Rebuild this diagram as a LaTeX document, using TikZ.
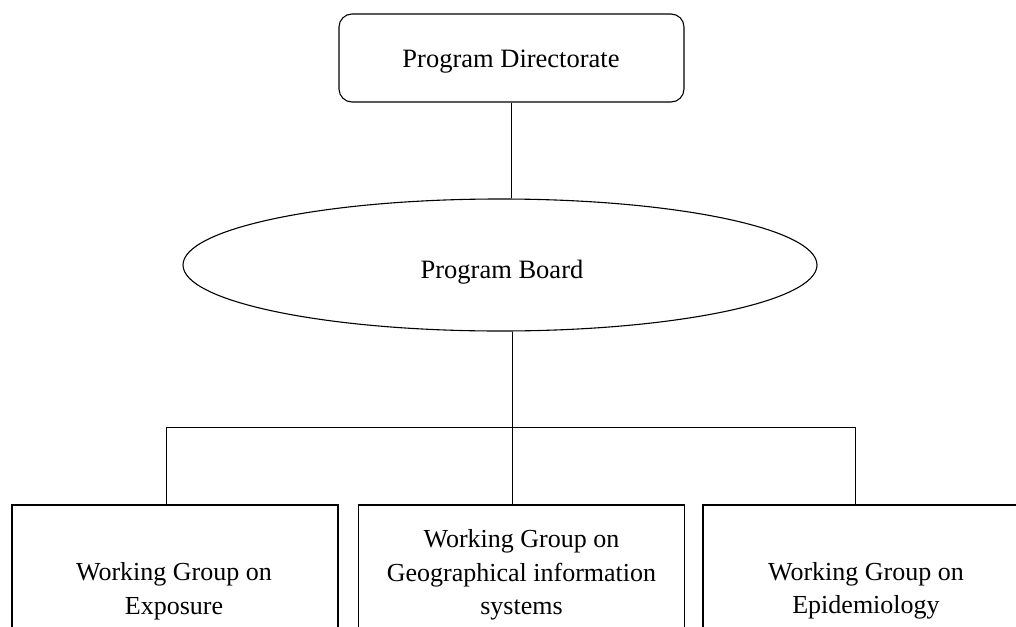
\documentclass[tikz,border=0pt]{standalone}
\usepackage{fontspec}
\setmainfont{Liberation Serif}
\usetikzlibrary{shapes.geometric}
\begin{document}
\begin{tikzpicture}[x=1pt,y=-1pt,
  conn/.style={draw=black,line width=1pt},
  toptext/.style={inner sep=0pt,font=\fontsize{26.5}{33}\selectfont},
  dirbox/.style={draw=black,line width=1.1pt,rounded corners=13pt,minimum width=345pt,minimum height=88pt,inner sep=0pt},
  boardell/.style={draw=black,line width=1.1pt,ellipse,minimum width=634pt,minimum height=132pt,inner sep=0pt},
  wgbox/.style={draw=black,line width=1.1pt,rectangle,minimum width=326pt,minimum height=150pt,inner sep=0pt},
  wgtext/.style={align=center,inner sep=0pt,font=\fontsize{26}{33.5}\selectfont}]
\useasboundingbox (0,0) rectangle (1016,626);
\clip (0,0) rectangle (1016,626);
\node[dirbox] (dir) at (511.5,58) {};
\node[toptext] (dirt) at (511,62) {Program Directorate};
\node[boardell] (board) at (500,265) {};
\node[toptext] (boardt) at (502,272) {Program Board};
\draw[conn] (dir.south) -- (dir.south |- board.north);
\coordinate (j) at (512.5,427);
\coordinate (jl) at (166,427);
\coordinate (jr) at (855,427);
\draw[conn] (board.south -| j) -- (j);
\draw[conn] (jl) -- (jr);
\node[wgbox] (wl) at (175,580) {};
\node[wgbox] (wm) at (521.5,580) {};
\node[wgbox] (wr) at (866,580) {};
\draw[conn] (jl) -- (jl |- wl.north);
\draw[conn] (j) -- (j |- wm.north);
\draw[conn] (jr) -- (jr |- wr.north);
\node[wgtext] (tl) at (174,591) {Working Group on\\Exposure};
\node[wgtext] (tm) at (521.5,575) {Working Group on\\Geographical information\\systems};
\node[wgtext] (tr) at (866,591) {Working Group on\\Epidemiology};
\end{tikzpicture}
\end{document}
